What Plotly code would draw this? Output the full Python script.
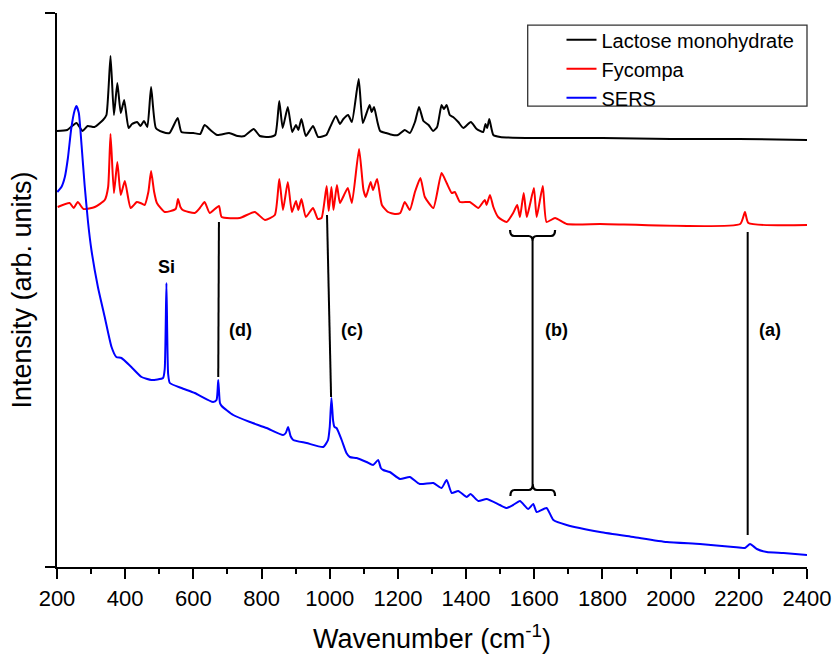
import plotly.graph_objects as go

# ---------------- data ----------------
# Lactose monohydrate spectrum: wavenumber (cm-1), intensity (arb. units)
LACTOSE_WN = [200, 230, 257, 275, 290, 310, 335, 345, 357, 367, 377, 387, 397, 410, 420, 435, 445, 455, 465,
              476, 490, 510, 530, 554, 565, 600, 620, 633, 650, 670, 705, 730, 750, 777, 795, 820, 840, 852,
              862, 877, 890, 901, 908, 917, 930, 951, 966, 990, 1000, 1018, 1030, 1040, 1054, 1065, 1085,
              1097, 1117, 1123, 1130, 1140, 1148, 1165, 1185, 1200, 1220, 1235, 1250, 1262, 1275, 1290,
              1303, 1315, 1328, 1335, 1343, 1352, 1362, 1377, 1392, 1414, 1431, 1450, 1457, 1462, 1468,
              1480, 1500, 1600, 1800, 2000, 2200, 2400]
LACTOSE_I = [436, 437, 444, 436, 441, 440, 447, 452, 511, 452, 484, 454, 467, 439, 443, 445, 441, 446, 440,
             480, 439, 435, 434, 449, 435, 434, 433, 442, 437, 432, 434, 431, 431, 438, 431, 430, 432, 466,
             439, 460, 435, 442, 437, 448, 431, 441, 430, 432, 439, 451, 443, 448, 452, 445, 488,
             444, 462, 455, 460, 445, 436, 434, 432, 432, 437, 434, 445, 460, 446, 442,
             436, 440, 462, 458, 462, 452, 450, 445, 439, 445, 438, 435, 443, 439, 448,
             432, 430, 429, 429, 428, 428, 427]

# Fycompa spectrum
FYCOMPA_WN = [202, 237, 249, 261, 278, 311, 340, 350, 357, 367, 377, 387, 399, 416, 434, 445, 457, 468, 476,
              485, 493, 516, 548, 555, 562, 569, 604, 619, 633, 648, 675, 683, 736, 780, 810, 839, 852, 863,
              877, 889, 901, 908, 917, 930, 951, 965, 976, 991, 997, 1005, 1011, 1021, 1030, 1042, 1053,
              1065, 1086, 1099, 1106, 1120, 1127, 1139, 1153, 1171, 1191, 1207, 1220, 1235, 1250, 1266,
              1279, 1304, 1328, 1343, 1358, 1367, 1382, 1411, 1436, 1455, 1460, 1470, 1480, 1494, 1519,
              1538, 1550, 1558, 1569, 1578, 1587, 1599, 1607, 1625, 1636, 1661, 1695, 1793, 2204, 2218,
              2228, 2400]
FYCOMPA_I = [360, 364, 359, 365, 358, 360, 367, 380, 433, 374, 405, 372, 386, 359, 365, 364, 362, 375, 396,
             375, 364, 355, 358, 368, 360, 357, 354, 359, 365, 354, 361, 350, 349, 355, 347, 352, 388, 357,
             385, 355, 366, 357, 368, 350, 359, 348, 349, 381, 356, 380, 357, 382, 364, 372, 379,
             364, 418, 377, 370, 385, 377, 388, 362, 355, 353, 354, 365, 357, 375, 389,
             370, 359, 394, 384, 374, 375, 365, 365, 359, 367, 362, 372, 360, 350, 345,
             354, 362, 350, 374, 350, 362, 379, 350, 381, 345, 349, 343, 343, 343, 355,
             344, 342]

# SERS spectrum
SERS_WN = [201, 213, 223, 232, 242, 252, 257, 264, 272, 281, 291, 301, 320, 340, 360, 374, 389, 418, 448, 477,
           511, 516, 521, 526, 531, 565, 604, 658, 668, 673, 678, 683, 717, 766, 815, 863, 871, 878, 885,
           893, 932, 981, 995, 1000, 1005, 1010, 1014, 1020, 1035, 1049, 1059, 1079, 1108, 1127, 1142,
           1150, 1157, 1176, 1206, 1235, 1264, 1304, 1328, 1343, 1358, 1377, 1402, 1413, 1436, 1460,
           1499, 1519, 1538, 1558, 1582, 1597, 1607, 1636, 1656, 1695, 1793, 1891, 1989, 2086, 2184,
           2218, 2233, 2253, 2282, 2331, 2400]
SERS_I = [375, 380, 390, 409, 439, 457, 461, 454, 422, 382, 345, 317, 280, 250, 220, 210, 209, 200, 190, 187,
          189, 198, 284, 193, 184, 179, 174, 165, 167, 187, 164, 161, 152, 145, 139, 132, 134, 140, 131,
          127, 124, 120, 127, 140, 169, 146, 140, 139, 127, 114, 110, 109, 105, 102, 107,
          99, 97, 95, 88, 90, 83, 84, 79, 87, 74, 76, 70, 73, 66, 68,
          62, 59, 62, 66, 58, 63, 55, 59, 47, 42, 35, 30, 25, 23, 20,
          19, 23, 18, 15, 14, 12]

SERIES_NAMES = ["Lactose monohydrate", "Fycompa", "SERS"]
SERIES_COLORS = ["#000000", "#ff0000", "#0000ff"]

X_TICKS = [200, 400, 600, 800, 1000, 1200, 1400, 1600, 1800, 2000, 2200, 2400]
X_RANGE = [200, 2400]
Y_RANGE = [0, 554]

# annotations: label text, wavenumber, intensity
LABEL_TEXT = ["Si", "(d)", "(c)", "(b)", "(a)"]
LABEL_WN = [522, 737, 1066, 1664, 2290]
LABEL_I = [300, 237, 237, 237, 237]

# marker lines: (wn top, i top, wn bottom, i bottom)
MARK_LINES = [(675, 345, 673, 190), (992, 352, 1004, 170), (1595, 326, 1595, 83), (2226, 335, 2226, 32)]

# braces: x0, x1, end level, middle level, tip level
BRACES = [(1529, 1661, 337, 331, 326), (1530, 1661, 71, 77, 83)]

FONT = "Liberation Sans, Arial, sans-serif"

# ---------------- figure ----------------
fig = go.Figure()
for wn, inten, name, col in zip([LACTOSE_WN, FYCOMPA_WN, SERS_WN], [LACTOSE_I, FYCOMPA_I, SERS_I],
                                SERIES_NAMES, SERIES_COLORS):
    fig.add_trace(go.Scatter(x=wn, y=inten, mode="lines", name=name,
                             line=dict(color=col, width=2, shape="spline", smoothing=0.5)))

shapes = []
for (xa, ya, xb, yb) in MARK_LINES:
    shapes.append(dict(type="line", xref="x", yref="y", x0=xa, y0=ya, x1=xb, y1=yb,
                       line=dict(color="black", width=2)))

for (x0, x1, ye, ym, yt) in BRACES:
    xm = (x0 + x1) / 2
    r = 12
    path = (f"M{x0},{ye} Q{x0},{ym} {x0 + r},{ym} L{xm - r},{ym} Q{xm},{ym} {xm},{yt} "
            f"Q{xm},{ym} {xm + r},{ym} L{x1 - r},{ym} Q{x1},{ym} {x1},{ye}")
    shapes.append(dict(type="path", xref="x", yref="y", path=path,
                       line=dict(color="black", width=2.2)))

# legend frame
shapes.append(dict(type="rect", xref="paper", yref="paper", x0=0.6276, x1=1.0, y0=0.832, y1=0.978,
                   line=dict(color="#333333", width=1.3), fillcolor="rgba(0,0,0,0)"))

annotations = []
for t, xw, yi in zip(LABEL_TEXT, LABEL_WN, LABEL_I):
    annotations.append(dict(x=xw, y=yi, xref="x", yref="y", text=f"<b>{t}</b>", showarrow=False,
                            font=dict(family=FONT, size=18, color="black"),
                            xanchor="center", yanchor="middle"))

fig.update_layout(
    width=835, height=658,
    margin=dict(l=57, r=28, t=13, b=91, autoexpand=False),
    plot_bgcolor="white", paper_bgcolor="white",
    font=dict(family=FONT, color="black"),
    shapes=shapes,
    annotations=annotations,
    showlegend=True,
    legend=dict(x=0.99, y=0.987, xanchor="right", yanchor="top",
                bgcolor="rgba(0,0,0,0)", borderwidth=0,
                font=dict(family=FONT, size=20, color="black")),
    xaxis=dict(range=X_RANGE, tickvals=X_TICKS, ticktext=[str(v) for v in X_TICKS],
               automargin=False,
               showline=True, linecolor="black", linewidth=2, mirror=False,
               ticks="outside", ticklen=10, tickwidth=2, tickcolor="black",
               minor=dict(dtick=100, tick0=200, ticks="outside", ticklen=5, tickwidth=2, tickcolor="black"),
               showgrid=False, zeroline=False,
               tickfont=dict(family=FONT, size=22, color="black"),
               ticklabelstandoff=1,
               title=dict(text="Wavenumber (cm<sup>-1</sup>)", font=dict(family=FONT, size=27, color="black"),
                          standoff=19)),
    yaxis=dict(range=Y_RANGE, tickvals=[Y_RANGE[0], Y_RANGE[1]], showticklabels=False,
               automargin=False,
               showline=True, linecolor="black", linewidth=2, mirror=False,
               ticks="outside", ticklen=10, tickwidth=2, tickcolor="black",
               showgrid=False, zeroline=False,
               title=dict(text="Intensity (arb. units)", font=dict(family=FONT, size=27, color="black"),
                          standoff=6)),
)

fig.write_html("out.html")
